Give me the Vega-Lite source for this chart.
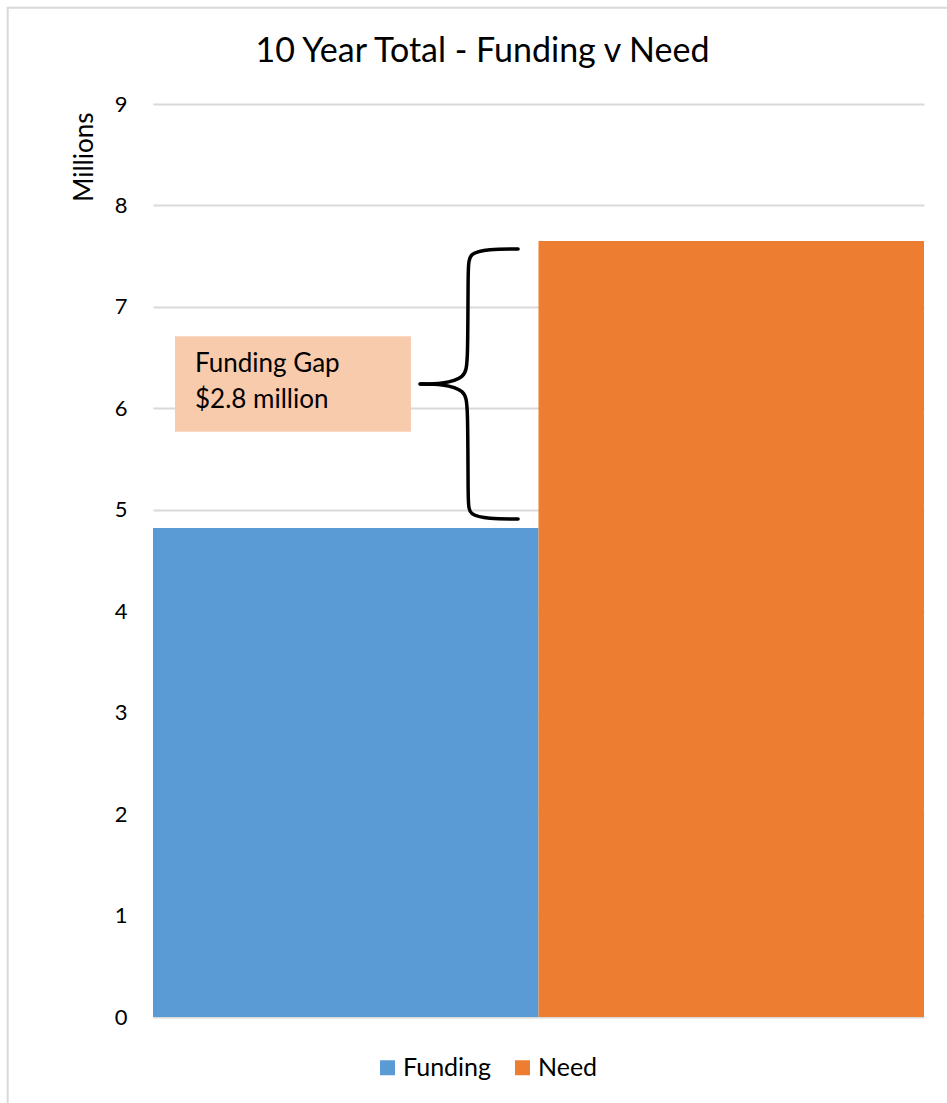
{
  "$schema": "https://vega.github.io/schema/vega-lite/v6.json",
  "autosize": "none",
  "width": 771,
  "height": 913,
  "padding": {"left": 153, "top": 104, "right": 23, "bottom": 86},
  "background": "white",
  "config": {
    "font": "Lato",
    "view": {"stroke": null}
  },
  "title": {
    "text": "10 Year Total - Funding v Need",
    "fontSize": 34,
    "fontWeight": "normal",
    "color": "#000000",
    "anchor": "middle",
    "frame": "group",
    "dx": -56,
    "dy": 88,
    "offset": 26
  },
  "resolve": {"scale": {"x": "independent"}},
  "layer": [
    {
      "data": {"values": [
        {"category": "Funding", "value": 4.82},
        {"category": "Need", "value": 7.65}
      ]},
      "mark": {"type": "bar"},
      "encoding": {
        "x": {"field": "category", "type": "nominal", "sort": ["Funding", "Need"],
              "scale": {"paddingInner": 0, "paddingOuter": 0}, "axis": null},
        "y": {"field": "value", "type": "quantitative",
              "scale": {"domain": [0, 9], "nice": false},
              "axis": {
                "values": [0, 1, 2, 3, 4, 5, 6, 7, 8, 9],
                "format": "d",
                "title": "Millions",
                "titleFontSize": 26,
                "titleFontWeight": "normal",
                "titleColor": "#000000",
                "titleAngle": -90,
                "titleAlign": "right",
                "titleBaseline": "middle",
                "titleX": -69,
                "titleY": 8,
                "labelFontSize": 22,
                "labelColor": "#000000",
                "labelPadding": 26,
                "ticks": false,
                "domain": false,
                "grid": true,
                "gridColor": "#D9D9D9",
                "gridWidth": 2
              }},
        "color": {"field": "category", "type": "nominal",
                  "scale": {"domain": ["Funding", "Need"], "range": ["#5B9BD5", "#ED7D31"]},
                  "legend": {
                    "title": null,
                    "orient": "none",
                    "direction": "horizontal",
                    "legendX": 222,
                    "legendY": 951,
                    "padding": 0,
                    "symbolType": "square",
                    "symbolSize": 225,
                    "symbolStrokeWidth": 0,
                    "symbolOpacity": 1,
                    "labelFontSize": 25,
                    "labelColor": "#000000",
                    "labelOffset": 3,
                    "columnPadding": 18
                  }}
      }
    },
    {
      "data": {"values": [
        {"x": -0.377, "x2": 2.2, "y": 9.95, "y2": -1.2}
      ]},
      "mark": {"type": "rect", "fill": null, "stroke": "#D9D9D9", "strokeWidth": 2},
      "encoding": {
        "x": {"field": "x", "type": "quantitative", "scale": {"domain": [0, 2], "nice": false, "zero": false}, "axis": null},
        "x2": {"field": "x2"},
        "y": {"field": "y", "type": "quantitative", "scale": {"domain": [0, 9], "nice": false}},
        "y2": {"field": "y2"}
      }
    },
    {
      "data": {"values": [
        {"x": 0.057, "x2": 0.669, "y": 6.71, "y2": 5.77}
      ]},
      "mark": {"type": "rect", "fill": "#F8CBAD"},
      "encoding": {
        "x": {"field": "x", "type": "quantitative", "scale": {"domain": [0, 2], "nice": false, "zero": false}, "axis": null},
        "x2": {"field": "x2"},
        "y": {"field": "y", "type": "quantitative", "scale": {"domain": [0, 9], "nice": false}},
        "y2": {"field": "y2"}
      }
    },
    {
      "data": {"values": [
        {"x": 0.109, "y": 6.36, "label": "Funding Gap"},
        {"x": 0.109, "y": 6.0, "label": "$2.8 million"}
      ]},
      "mark": {"type": "text", "align": "left", "baseline": "alphabetic", "fontSize": 26, "color": "#000000"},
      "encoding": {
        "x": {"field": "x", "type": "quantitative", "scale": {"domain": [0, 2], "nice": false, "zero": false}, "axis": null},
        "y": {"field": "y", "type": "quantitative", "scale": {"domain": [0, 9], "nice": false}},
        "text": {"field": "label"}
      }
    },
    {
      "data": {"values": [
        {"half": "upper", "order": 1, "x": 0.947, "y": 7.57},
        {"half": "upper", "order": 2, "x": 0.87, "y": 7.57},
        {"half": "upper", "order": 3, "x": 0.82, "y": 7.53},
        {"half": "upper", "order": 4, "x": 0.817, "y": 7.40},
        {"half": "upper", "order": 5, "x": 0.817, "y": 6.45},
        {"half": "upper", "order": 6, "x": 0.81, "y": 6.30},
        {"half": "upper", "order": 7, "x": 0.75, "y": 6.24},
        {"half": "upper", "order": 8, "x": 0.693, "y": 6.24},
        {"half": "lower", "order": 1, "x": 0.693, "y": 6.24},
        {"half": "lower", "order": 2, "x": 0.75, "y": 6.24},
        {"half": "lower", "order": 3, "x": 0.81, "y": 6.18},
        {"half": "lower", "order": 4, "x": 0.817, "y": 6.03},
        {"half": "lower", "order": 5, "x": 0.817, "y": 5.06},
        {"half": "lower", "order": 6, "x": 0.82, "y": 4.95},
        {"half": "lower", "order": 7, "x": 0.87, "y": 4.91},
        {"half": "lower", "order": 8, "x": 0.947, "y": 4.91}
      ]},
      "mark": {"type": "line", "interpolate": "basis", "color": "#000000", "strokeWidth": 3.5, "strokeCap": "round"},
      "encoding": {
        "x": {"field": "x", "type": "quantitative", "scale": {"domain": [0, 2], "nice": false, "zero": false}, "axis": null},
        "y": {"field": "y", "type": "quantitative", "scale": {"domain": [0, 9], "nice": false}},
        "detail": {"field": "half", "type": "nominal"},
        "order": {"field": "order", "type": "quantitative"}
      }
    }
  ]
}
